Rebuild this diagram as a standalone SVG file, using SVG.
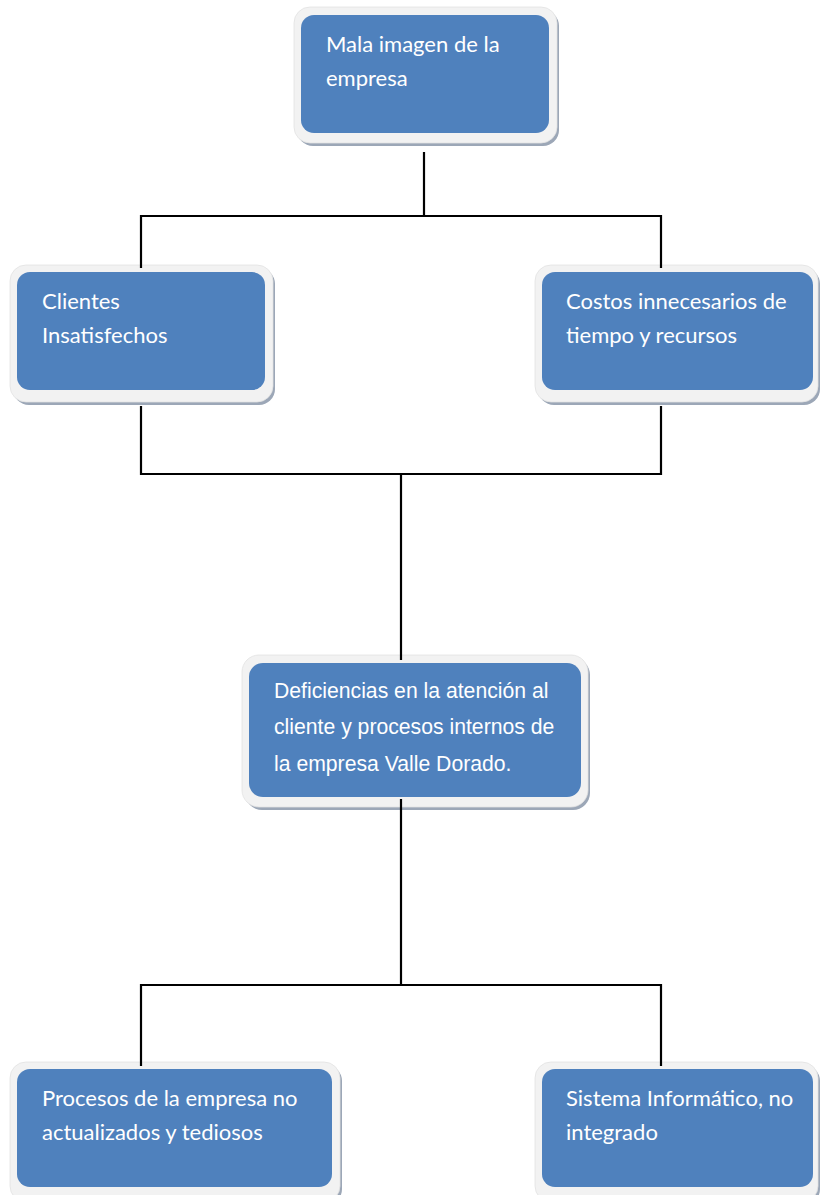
<svg xmlns="http://www.w3.org/2000/svg" width="823" height="1195" viewBox="0 0 823 1195">
  <style>
    .shadow { fill: #9ca7b7; }
    .frame { fill: #f2f2f2; stroke: #e2e2e2; stroke-width: 0.8; }
    .body { fill: #4f81bd; }
    .lbl { fill: #ffffff; font-family: Lato, "Open Sans", sans-serif; font-size: 22px; }
    .lbl-arial { fill: #ffffff; font-family: "Liberation Sans", Arial, sans-serif; font-size: 21.2px; }
    .conn { fill: none; stroke: #000000; stroke-width: 2.2; stroke-linecap: butt; stroke-linejoin: miter; }
  </style>
  <rect width="823" height="1195" fill="#ffffff"/>

  <!-- top node -->
  <g id="node-mala-imagen">
    <rect class="shadow" x="297" y="10" width="262" height="136" rx="16"/>
    <rect class="frame" x="294" y="7" width="263" height="136" rx="16"/>
    <rect class="body" x="301" y="15" width="248" height="118" rx="13"/>
    <text class="lbl" x="326" y="52">Mala imagen de la</text>
    <text class="lbl" x="326" y="86">empresa</text>
  </g>

  <!-- second row -->
  <g id="node-clientes">
    <rect class="shadow" x="13" y="268" width="262" height="137" rx="16"/>
    <rect class="frame" x="10" y="265" width="263" height="137" rx="16"/>
    <rect class="body" x="17" y="272" width="248" height="118" rx="13"/>
    <text class="lbl" x="42" y="309">Clientes</text>
    <text class="lbl" x="42" y="343">Insatisfechos</text>
  </g>

  <g id="node-costos">
    <rect class="shadow" x="538" y="268" width="282" height="137" rx="16"/>
    <rect class="frame" x="535" y="265" width="283" height="137" rx="16"/>
    <rect class="body" x="542" y="272" width="271" height="118" rx="13"/>
    <text class="lbl" x="566" y="309">Costos innecesarios de</text>
    <text class="lbl" x="566" y="343">tiempo y recursos</text>
  </g>

  <!-- central node -->
  <g id="node-deficiencias">
    <rect class="shadow" x="245" y="658" width="345" height="152" rx="17"/>
    <rect class="frame" x="242" y="655" width="346" height="152" rx="17"/>
    <rect class="body" x="249" y="663" width="332" height="134" rx="14"/>
    <text class="lbl-arial" x="274" y="698">Deficiencias en la atención al</text>
    <text class="lbl-arial" x="274" y="734">cliente y procesos internos de</text>
    <text class="lbl-arial" x="274" y="771">la empresa Valle Dorado.</text>
  </g>

  <!-- bottom row -->
  <g id="node-procesos">
    <rect class="shadow" x="13" y="1065" width="329" height="140" rx="16"/>
    <rect class="frame" x="10" y="1062" width="330" height="140" rx="16"/>
    <rect class="body" x="17" y="1069" width="315" height="118" rx="13"/>
    <text class="lbl" x="42" y="1106">Procesos de la empresa no</text>
    <text class="lbl" x="42" y="1140">actualizados y tediosos</text>
  </g>

  <g id="node-sistema">
    <rect class="shadow" x="538" y="1065" width="282" height="140" rx="16"/>
    <rect class="frame" x="535" y="1062" width="283" height="140" rx="16"/>
    <rect class="body" x="542" y="1069" width="271" height="118" rx="13"/>
    <text class="lbl" x="566" y="1106">Sistema Informático, no</text>
    <text class="lbl" x="566" y="1140">integrado</text>
  </g>

  <!-- connectors, drawn over the node frames -->
  <g id="connectors">
    <path class="conn" d="M424 152 V216 M141 268 V216 H661 V268"/>
    <path class="conn" d="M141 406 V474 H661 V406 M401 474 V660"/>
    <path class="conn" d="M401 799 V985 M141 1066 V985 H661 V1066"/>
  </g>
</svg>
